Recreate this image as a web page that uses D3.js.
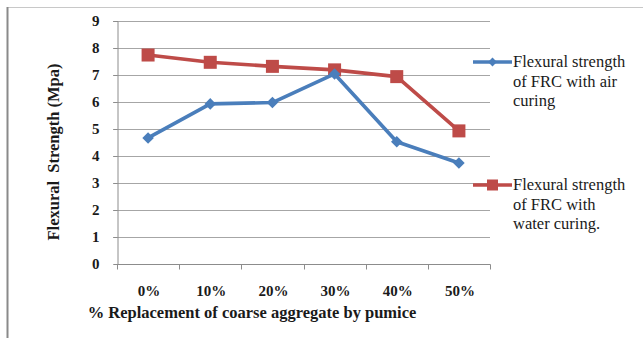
<!DOCTYPE html>
<html>
<head>
<meta charset="utf-8">
<script src="https://cdn.jsdelivr.net/npm/d3@7"></script>
<style>
  html, body { margin: 0; padding: 0; background: #fff; }
  svg { display: block; }
</style>
</head>
<body>
<svg id="chart" width="643" height="338" style="font-family:'Liberation Serif','Times New Roman',serif"></svg>
<script>
// Replacement levels of coarse aggregate by pumice
const categories = ["0%", "10%", "20%", "30%", "40%", "50%"];
// Flexural strength (MPa)
const airCuring = [4.67, 5.93, 5.98, 7.04, 4.53, 3.74];
const waterCuring = [7.74, 7.47, 7.32, 7.19, 6.94, 4.93];
const yTicks = [0, 1, 2, 3, 4, 5, 6, 7, 8, 9];

const seriesNames = [
  ["Flexural strength", "of FRC with air", "curing"],
  ["Flexural strength", "of FRC with", "water curing."]
];
const colors = ["#4a7ebb", "#be4b48"];
const serif = "'Liberation Serif','Times New Roman',serif";
const ink = "#1a1a1a";

const svg = d3.select("#chart");

// outer frame: top and left edges
svg.append("line").attr("x1", 7).attr("x2", 643).attr("y1", 7.5).attr("y2", 7.5)
  .attr("stroke", "#c8c8c8").attr("stroke-width", 1);
svg.append("line").attr("x1", 7.5).attr("x2", 7.5).attr("y1", 7).attr("y2", 338)
  .attr("stroke", "#8a8a8a").attr("stroke-width", 2);

const plot = { left: 117, right: 490, top: 21, bottom: 264 };

const x = d3.scaleBand().domain(categories).range([plot.left, plot.right]);
const y = d3.scaleLinear().domain([0, 9]).range([plot.bottom, plot.top]);

// horizontal gridlines
svg.append("g").selectAll("line").data(yTicks.filter(d => d > 0)).join("line")
  .attr("x1", plot.left - 4).attr("x2", plot.right)
  .attr("y1", d => Math.round(y(d)) + 0.5).attr("y2", d => Math.round(y(d)) + 0.5)
  .attr("stroke", "#a6a6a6").attr("stroke-width", 1.2);

// y axis
const yAxis = svg.append("g").attr("transform", `translate(${plot.left + 0.5},0)`)
  .call(d3.axisLeft(y).tickValues(yTicks).tickSize(4).tickPadding(14).tickFormat(d3.format("d")));
yAxis.select(".domain").attr("stroke", "#8c8c8c");
yAxis.selectAll(".tick line").attr("stroke", "#8c8c8c");
yAxis.selectAll("text")
  .style("font-family", serif).style("font-size", "15px").style("font-weight", "bold")
  .attr("fill", ink);

// x axis with ticks on category boundaries
const xAxisG = svg.append("g").attr("transform", `translate(0,${plot.bottom + 0.5})`);
xAxisG.append("line").attr("x1", plot.left).attr("x2", plot.right + 0.5)
  .attr("stroke", "#8c8c8c");
const bounds = categories.map(c => x(c)).concat([x(categories[categories.length - 1]) + x.bandwidth()]);
xAxisG.selectAll("line.tk").data(bounds).join("line").attr("class", "tk")
  .attr("x1", d => Math.round(d) + 0.5).attr("x2", d => Math.round(d) + 0.5)
  .attr("y1", 0).attr("y2", 5).attr("stroke", "#8c8c8c");
xAxisG.selectAll("text").data(categories).join("text")
  .attr("x", d => x(d) + x.bandwidth() / 2 + 1)
  .attr("y", 31)
  .attr("text-anchor", "middle")
  .attr("fill", ink)
  .style("font-family", serif).style("font-size", "15px").style("font-weight", "bold")
  .text(d => d);

// axis titles
svg.append("text")
  .attr("transform", "translate(59,152) rotate(-90)")
  .attr("text-anchor", "middle")
  .attr("fill", ink)
  .attr("xml:space", "preserve")
  .style("font-family", serif).style("font-size", "16.5px").style("font-weight", "bold")
  .text("Flexural  Strength (Mpa)");

svg.append("text")
  .attr("x", 252).attr("y", 318)
  .attr("text-anchor", "middle")
  .attr("fill", ink)
  .style("font-family", serif).style("font-size", "16.5px").style("font-weight", "bold")
  .text("% Replacement of coarse aggregate by pumice");

const cx = d => x(d) + x.bandwidth() / 2;
const line = d3.line().x((d, i) => cx(categories[i])).y(d => y(d));

// water curing series (square markers)
svg.append("path").datum(waterCuring)
  .attr("d", line).attr("fill", "none")
  .attr("stroke", colors[1]).attr("stroke-width", 3.6).attr("stroke-linejoin", "round");
svg.append("g").selectAll("rect").data(waterCuring).join("rect")
  .attr("x", (d, i) => cx(categories[i]) - 6.5)
  .attr("y", d => y(d) - 6.5)
  .attr("width", 13).attr("height", 13)
  .attr("fill", colors[1]);

// air curing series (diamond markers)
svg.append("path").datum(airCuring)
  .attr("d", line).attr("fill", "none")
  .attr("stroke", colors[0]).attr("stroke-width", 3.6).attr("stroke-linejoin", "round");
const diamond = d3.symbol().type(d3.symbolDiamond2).size(85);
svg.append("g").selectAll("path").data(airCuring).join("path")
  .attr("d", diamond)
  .attr("transform", (d, i) => `translate(${cx(categories[i])},${y(d)})`)
  .attr("fill", colors[0]);

// legend
const legendY = [62, 185];
seriesNames.forEach((lines, k) => {
  const g = svg.append("g");
  g.append("line").attr("x1", 473).attr("x2", 512)
    .attr("y1", legendY[k]).attr("y2", legendY[k])
    .attr("stroke", colors[k]).attr("stroke-width", 3.4);
  if (k === 0) {
    g.append("path").attr("d", d3.symbol().type(d3.symbolDiamond2).size(50))
      .attr("transform", `translate(492.5,${legendY[k]})`).attr("fill", colors[k]);
  } else {
    g.append("rect").attr("x", 487).attr("y", legendY[k] - 5.5)
      .attr("width", 11).attr("height", 11).attr("fill", colors[k]);
  }
  g.append("text").attr("x", 513).attr("y", legendY[k] + 5)
    .attr("fill", ink)
    .style("font-family", serif).style("font-size", "16.5px")
    .selectAll("tspan").data(lines).join("tspan")
    .attr("x", 513).attr("dy", (d, i) => i === 0 ? 0 : 19.5)
    .text(d => d);
});
</script>
</body>
</html>
